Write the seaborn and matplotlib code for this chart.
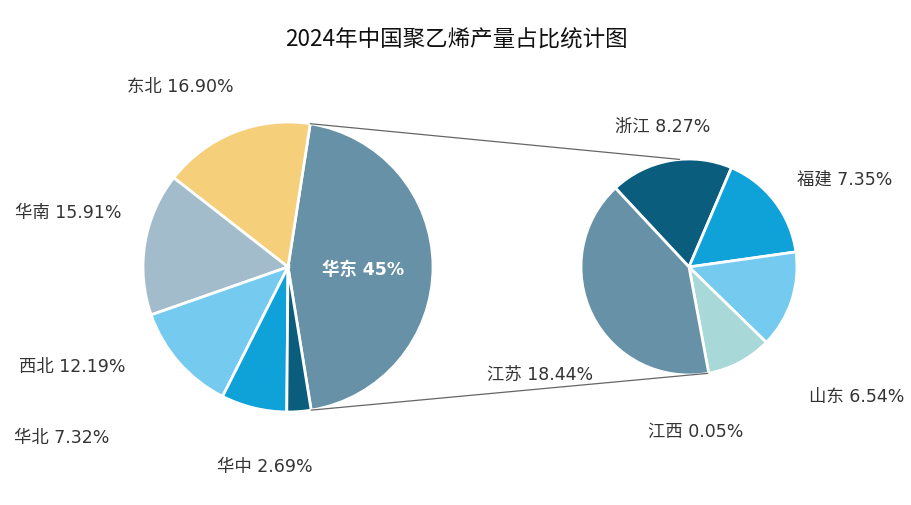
import matplotlib
matplotlib.use("Agg")
import matplotlib.pyplot as plt
import seaborn as sns
import numpy as np
from matplotlib.patches import ConnectionPatch

# ---- data ----
main_labels = ["华东", "东北", "华南", "西北", "华北", "华中"]
main_values = [45.0, 16.90, 15.91, 12.19, 7.32, 2.69]
main_texts = ["华东 45%", "东北 16.90%", "华南 15.91%", "西北 12.19%", "华北 7.32%", "华中 2.69%"]

sub_labels = ["浙江", "福建", "山东", "江西", "江苏"]
sub_values = [8.27, 7.35, 6.54, 4.40, 18.44]
sub_texts = ["浙江 8.27%", "福建 7.35%", "山东 6.54%", "江西 0.05%", "江苏 18.44%"]

title = "2024年中国聚乙烯产量占比统计图"

# ---- styles ----
main_colors = ["#6691a6", "#f6cf7b", "#a3bccc", "#75caf0", "#0ea2d8", "#0b5d7e"]
sub_colors = ["#0b5d7e", "#0ea2d8", "#75caf0", "#a8d8d8", "#6691a6"]

sns.set_theme(style="white")
plt.rcParams['font.family'] = ['DejaVu Sans', 'Noto Sans CJK SC']

W, H = 912, 506
fig = plt.figure(figsize=(W / 100, H / 100), dpi=100)
fig.patch.set_facecolor("white")

def axes_at(cx, cy, r):
    return fig.add_axes([(cx - r) / W, 1 - (cy + r) / H, 2 * r / W, 2 * r / H])

ax1 = axes_at(288, 268, 145)
ax2 = axes_at(689, 268, 108)

wp = dict(edgecolor="white", linewidth=2)
w1, _ = ax1.pie(main_values, colors=main_colors, startangle=-80.8, counterclock=True,
                radius=1, wedgeprops=wp)
w2, _ = ax2.pie(sub_values, colors=sub_colors, startangle=133, counterclock=False,
                radius=1, wedgeprops=wp)
for ax in (ax1, ax2):
    ax.set_xlim(-1.0, 1.0)
    ax.set_ylim(-1.0, 1.0)
    ax.set_aspect("equal")
    ax.axis("off")

# connection lines from 华东 wedge edges to sub pie
th1, th2 = w1[0].theta1, w1[0].theta2
for ang_main, ang_sub in [(th2, 95), (th1, -80)]:
    p1 = (np.cos(np.radians(ang_main)), np.sin(np.radians(ang_main)))
    p2 = (np.cos(np.radians(ang_sub)), np.sin(np.radians(ang_sub)))
    con = ConnectionPatch(xyA=p1, coordsA=ax1.transData, xyB=p2, coordsB=ax2.transData,
                          color="#666666", linewidth=0.9)
    fig.add_artist(con)

# label positions (pixel centers)
main_pos = [(363, 270), (180, 87), (68, 213), (72, 367), (62, 438), (265, 467)]
sub_pos = [(663, 127), (845, 180), (857, 397), (696, 432), (540, 375)]

tc = "#333333"
for i, (t, (x, y)) in enumerate(zip(main_texts, main_pos)):
    fig.text(x / W, 1 - y / H, t, ha="center", va="center", fontsize=12.5,
             color="white" if i == 0 else tc, fontweight="bold" if i == 0 else "normal")
for t, (x, y) in zip(sub_texts, sub_pos):
    fig.text(x / W, 1 - y / H, t, ha="center", va="center", fontsize=12.5, color=tc)

fig.text(456 / W, 1 - 40 / H, title, ha="center", va="center", fontsize=16.2, color="#111111",
         family=['Noto Sans CJK SC', 'DejaVu Sans'])

fig.savefig("out.png", dpi=100, facecolor="white")
